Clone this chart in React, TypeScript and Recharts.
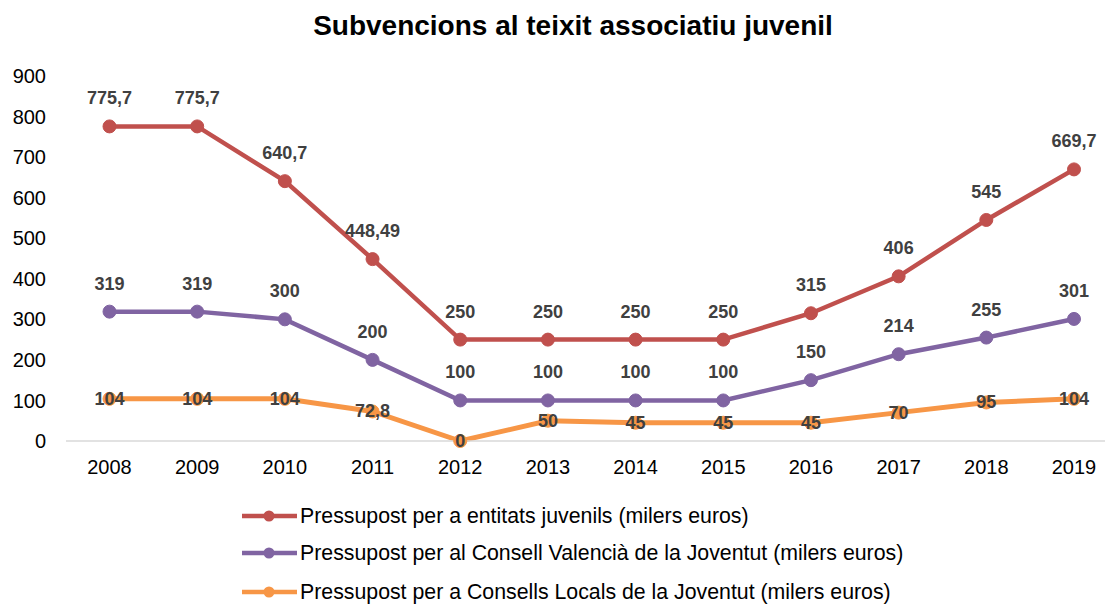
import React from "react";
import { LineChart, Line, XAxis, YAxis, LabelList } from "recharts";

const years = ["2008", "2009", "2010", "2011", "2012", "2013", "2014", "2015", "2016", "2017", "2018", "2019"];
const entitats = [775.7, 775.7, 640.7, 448.49, 250, 250, 250, 250, 315, 406, 545, 669.7];
const consellValencia = [319, 319, 300, 200, 100, 100, 100, 100, 150, 214, 255, 301];
const consellsLocals = [104, 104, 104, 72.8, 0, 50, 45, 45, 45, 70, 95, 104];
const yTicks = [0, 100, 200, 300, 400, 500, 600, 700, 800, 900];

const seriesNames = [
  "Pressupost per a entitats juvenils (milers euros)",
  "Pressupost per al Consell Valencià de la Joventut (milers euros)",
  "Pressupost per a Consells Locals de la Joventut (milers euros)",
];
const colors = ["#C0504D", "#8064A2", "#F79646"];

const data = years.map((y, i) => ({
  year: y,
  a: entitats[i],
  b: consellValencia[i],
  c: consellsLocals[i],
}));

const FONT = "'Liberation Sans', Arial, sans-serif";

const fmt = (v: number) => String(v).replace(".", ",");

const makeLabel = (dyOffset: number) => (props: any) => {
  const { x, y, value } = props;
  return (
    <text
      x={x}
      y={y + dyOffset}
      textAnchor="middle"
      dominantBaseline="central"
      fontFamily={FONT}
      fontWeight="bold"
      fontSize={18}
      fill="#404040"
    >
      {fmt(value)}
    </text>
  );
};

export default function App() {
  return (
    <div style={{ position: "absolute", left: 0, top: 0, width: 1105, height: 605, background: "#fff", fontFamily: FONT }}>
      <div
        style={{
          position: "absolute",
          left: 0,
          width: 1146,
          top: 10,
          textAlign: "center",
          fontWeight: "bold",
          fontSize: 28,
          color: "#000",
          fontFamily: FONT,
        }}
      >
        Subvencions al teixit associatiu juvenil
      </div>
      <LineChart
        width={1105}
        height={605}
        data={data}
        margin={{ top: 76, right: 0, bottom: 134, left: 6 }}
      >
        <XAxis
          dataKey="year"
          height={30}
          padding={{ left: 43.5, right: 31 }}
          axisLine={{ stroke: "#D9D9D9", strokeWidth: 1.5 }}
          tickLine={false}
          tickSize={0}
          tickMargin={19}
          tick={{ fill: "#000", fontSize: 20, fontFamily: FONT }}
          interval={0}
        />
        <YAxis
          width={60}
          domain={[0, 900]}
          ticks={yTicks}
          axisLine={false}
          tickLine={false}
          tickSize={0}
          tickMargin={20}
          tick={{ fill: "#000", fontSize: 20, fontFamily: FONT }}
          interval={0}
        />
        <Line
          dataKey="a"
          stroke={colors[0]}
          strokeWidth={4.5}
          dot={{ r: 6.5, fill: colors[0], stroke: colors[0], strokeWidth: 1 }}
          isAnimationActive={false}
        >
          <LabelList dataKey="a" content={makeLabel(-28)} />
        </Line>
        <Line
          dataKey="b"
          stroke={colors[1]}
          strokeWidth={4.5}
          dot={{ r: 6.5, fill: colors[1], stroke: colors[1], strokeWidth: 1 }}
          isAnimationActive={false}
        >
          <LabelList dataKey="b" content={makeLabel(-28)} />
        </Line>
        <Line
          dataKey="c"
          stroke={colors[2]}
          strokeWidth={5}
          dot={{ r: 6.5, fill: colors[2], stroke: colors[2], strokeWidth: 1 }}
          isAnimationActive={false}
        >
          <LabelList dataKey="c" content={makeLabel(0)} />
        </Line>
      </LineChart>
      {seriesNames.map((name, i) => (
        <div
          key={name}
          style={{
            position: "absolute",
            left: 242,
            top: [516, 553, 592][i] - 12,
            height: 24,
            display: "flex",
            alignItems: "center",
            fontSize: 21.3,
            color: "#000",
            fontFamily: FONT,
            whiteSpace: "nowrap",
          }}
        >
          <svg width={56} height={24} style={{ display: "block" }}>
            <line x1={0} y1={12} x2={55} y2={12} stroke={colors[i]} strokeWidth={4.5} />
            <circle cx={27} cy={12} r={5.5} fill={colors[i]} />
          </svg>
          <span style={{ marginLeft: 2 }}>{name}</span>
        </div>
      ))}
    </div>
  );
}
